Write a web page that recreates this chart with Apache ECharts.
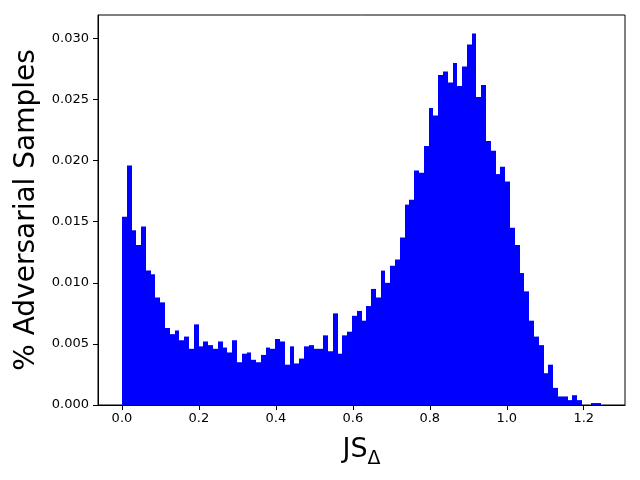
<!DOCTYPE html>
<html>
<head>
<meta charset="utf-8">
<script src="https://cdn.jsdelivr.net/npm/echarts@6/dist/echarts.min.js"></script>
<style>
  html, body { margin: 0; padding: 0; background: #fff; }
  #chart { width: 640px; height: 480px; }
</style>
</head>
<body>
<div id="chart"></div>
<script>
  // histogram: 100 equal bins from binLo to binHi
  var binLo = 0;
  var binHi = 1.245;
  var fractions = [
    0.0154, 0.0196, 0.0143, 0.0131, 0.0146, 0.0110, 0.0107, 0.0088, 0.0084, 0.0063,
    0.0058, 0.0061, 0.0053, 0.0056, 0.0046, 0.0066, 0.0048, 0.0052, 0.0049, 0.0046,
    0.0052, 0.0047, 0.0043, 0.0053, 0.0035, 0.0042, 0.0043, 0.0037, 0.0035, 0.0041,
    0.0047, 0.0046, 0.0054, 0.0052, 0.0033, 0.0048, 0.0034, 0.0038, 0.0048, 0.0049,
    0.0046, 0.0046, 0.0057, 0.0044, 0.0075, 0.0042, 0.0057, 0.0060, 0.0073, 0.0077,
    0.0069, 0.0081, 0.0095, 0.0088, 0.0110, 0.0100, 0.0114, 0.0119, 0.0137, 0.0164,
    0.0168, 0.0192, 0.0190, 0.0212, 0.0243, 0.0237, 0.0270, 0.0273, 0.0264, 0.0280,
    0.0261, 0.0277, 0.0295, 0.0304, 0.0252, 0.0262, 0.0216, 0.0208, 0.0189, 0.0195,
    0.0183, 0.0145, 0.0131, 0.0108, 0.0093, 0.0069, 0.0056, 0.0049, 0.0026, 0.0033,
    0.0014, 0.0007, 0.0007, 0.0004, 0.0008, 0.0004, 0, 0, 0.00016, 0.00016
  ];
  var xTicks = [0, 0.2, 0.4, 0.6, 0.8, 1.0, 1.2];
  var yTicks = [0, 0.005, 0.010, 0.015, 0.020, 0.025, 0.030];

  var myChart = echarts.init(document.getElementById('chart'));

  var binW = (binHi - binLo) / fractions.length;
  var histData = fractions.map(function (v, i) {
    return [binLo + i * binW, binLo + (i + 1) * binW, v];
  });
  // matplotlib style 5% margins
  var xPad = (binHi - binLo) * 0.05;
  var yMax = Math.max.apply(null, fractions) * 1.05;

  myChart.setOption({
    animation: false,
    grid: {
      left: 98, right: 15, top: 15, bottom: 75,
      show: true, borderColor: '#000', borderWidth: 1, backgroundColor: 'transparent'
    },
    xAxis: {
      type: 'value',
      min: binLo - xPad,
      max: binHi + xPad,
      name: '{a|JS}{b|Δ}',
      nameLocation: 'middle',
      nameGap: 26,
      nameTextStyle: {
        rich: {
          a: { fontSize: 27, fontFamily: 'DejaVu Sans', color: '#000', verticalAlign: 'bottom', lineHeight: 32 },
          b: { fontSize: 19, fontFamily: 'DejaVu Sans', color: '#000', verticalAlign: 'bottom', lineHeight: 26, padding: [0, 0, -6, 0] }
        }
      },
      axisLine: { show: true, onZero: false, lineStyle: { color: '#000', width: 1 } },
      axisTick: { show: true, length: 5, lineStyle: { color: '#000' }, customValues: xTicks },
      axisLabel: {
        color: '#000', fontSize: 13, fontFamily: 'DejaVu Sans', margin: 7,
        customValues: xTicks,
        formatter: function (v) { return v.toFixed(1); }
      },
      splitLine: { show: false }
    },
    yAxis: {
      type: 'value',
      min: 0,
      max: yMax,
      name: '% Adversarial Samples',
      nameLocation: 'middle',
      nameGap: 57,
      nameTextStyle: { fontSize: 28, fontFamily: 'DejaVu Sans', color: '#000' },
      axisLine: { show: true, onZero: false, lineStyle: { color: '#000', width: 1 } },
      axisTick: { show: true, length: 5, lineStyle: { color: '#000' }, customValues: yTicks },
      axisLabel: {
        color: '#000', fontSize: 13, fontFamily: 'DejaVu Sans', margin: 9,
        customValues: yTicks,
        formatter: function (v) { return v.toFixed(3); }
      },
      splitLine: { show: false }
    },
    series: [{
      type: 'custom',
      data: histData,
      encode: { x: [0, 1], y: 2 },
      renderItem: function (params, api) {
        var p0 = api.coord([api.value(0), api.value(2)]);
        var p1 = api.coord([api.value(1), 0]);
        // snap bin edges to whole pixels so neighbouring bars join without seams
        var x0 = Math.round(p0[0]);
        var x1 = Math.round(p1[0]);
        return {
          type: 'rect',
          shape: { x: x0, y: p0[1], width: x1 - x0, height: p1[1] - p0[1] },
          style: { fill: '#0000ff' }
        };
      }
    }]
  });
</script>
</body>
</html>
